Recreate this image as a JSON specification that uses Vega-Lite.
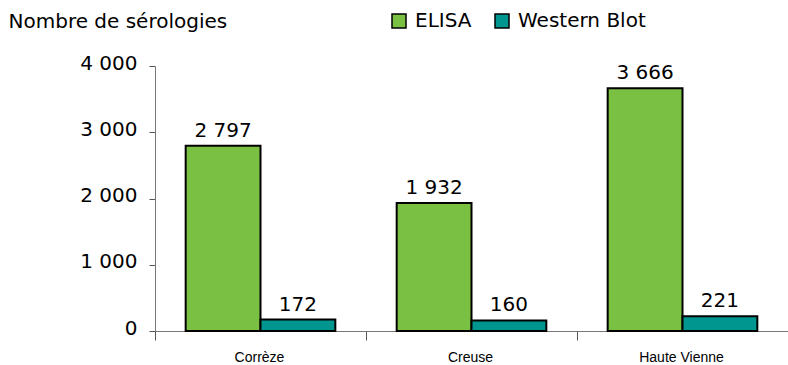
{
  "$schema": "https://vega.github.io/schema/vega-lite/v6.json",
  "autosize": {"type": "none"},
  "width": 633,
  "height": 265,
  "padding": {"left": 155, "top": 66, "right": 0, "bottom": 34},
  "background": "white",
  "config": {
    "view": {"stroke": null},
    "font": "DejaVu Sans",
    "axis": {"grid": false},
    "locale": {
      "number": {"decimal": ",", "thousands": " ", "grouping": [3], "currency": ["", " €"]}
    }
  },
  "data": {
    "values": [
      {"departement": "Corrèze", "test": "ELISA", "n": 2797},
      {"departement": "Corrèze", "test": "Western Blot", "n": 172},
      {"departement": "Creuse", "test": "ELISA", "n": 1932},
      {"departement": "Creuse", "test": "Western Blot", "n": 160},
      {"departement": "Haute Vienne", "test": "ELISA", "n": 3666},
      {"departement": "Haute Vienne", "test": "Western Blot", "n": 221}
    ]
  },
  "encoding": {
    "x": {
      "field": "departement",
      "type": "nominal",
      "sort": null,
      "scale": {"paddingInner": 0, "paddingOuter": 0},
      "axis": {
        "title": null,
        "labelAngle": 0,
        "labelFont": "Liberation Sans",
        "labelFontSize": 14,
        "labelColor": "black",
        "labelPadding": 10,
        "labelOffset": 104,
        "tickSize": 9,
        "tickOffset": -105.5,
        "tickColor": "#555555",
        "domainColor": "#777777",
        "domainWidth": 1
      }
    },
    "xOffset": {
      "field": "test",
      "sort": ["ELISA", "Western Blot"],
      "scale": {"paddingInner": 0, "paddingOuter": 0.41}
    },
    "y": {
      "field": "n",
      "type": "quantitative",
      "scale": {"domain": [0, 4000]},
      "axis": {
        "values": [0, 1000, 2000, 3000, 4000],
        "format": ",d",
        "labelFontSize": 20,
        "labelColor": "black",
        "labelPadding": 12,
        "labelBaseline": "middle",
        "labelOffset": -3,
        "tickSize": 6,
        "tickColor": "#555555",
        "domainColor": "#777777",
        "title": "Nombre de sérologies",
        "titleAngle": 0,
        "titleAlign": "left",
        "titleBaseline": "alphabetic",
        "titleX": -147,
        "titleY": -39,
        "titleFontSize": 20,
        "titleFontWeight": "normal",
        "titleColor": "black"
      }
    }
  },
  "layer": [
    {
      "mark": {"type": "bar", "stroke": "black", "strokeWidth": 2},
      "encoding": {
        "color": {
          "field": "test",
          "type": "nominal",
          "scale": {"domain": ["ELISA", "Western Blot"], "range": ["#7AC143", "#009690"]},
          "legend": {
            "orient": "none",
            "legendX": 234,
            "legendY": -55,
            "direction": "horizontal",
            "title": null,
            "symbolType": "square",
            "symbolSize": 196,
            "symbolStrokeColor": "black",
            "symbolStrokeWidth": 1.5,
            "symbolOpacity": 1,
            "labelFontSize": 20,
            "labelColor": "black",
            "labelOffset": 6,
            "columnPadding": 20
          }
        }
      }
    },
    {
      "mark": {"type": "text", "baseline": "alphabetic", "dy": -9, "fontSize": 20, "color": "black"},
      "encoding": {
        "text": {"field": "n", "type": "quantitative", "format": ",d"}
      }
    }
  ]
}
